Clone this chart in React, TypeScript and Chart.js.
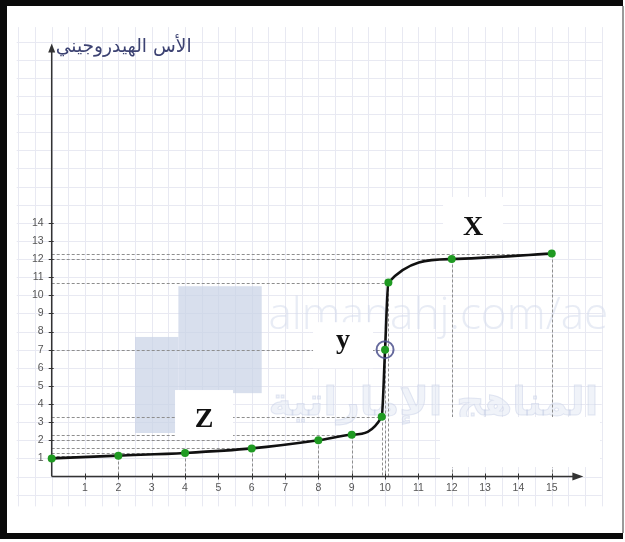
import React, { useEffect, useRef } from 'react';
import { Chart, registerables } from 'chart.js';

Chart.register(...registerables);

// ---- data ----
const volumes = [0, 2, 4, 6, 8, 9, 9.9, 10, 10.1, 12, 15];
const phValues = [1.0, 1.15, 1.3, 1.55, 2.0, 2.3, 3.3, 7.0, 10.7, 12.0, 12.3];
const xTickValues = [1, 2, 3, 4, 5, 6, 7, 8, 9, 10, 11, 12, 13, 14, 15];
const yTickValues = [1, 2, 3, 4, 5, 6, 7, 8, 9, 10, 11, 12, 13, 14];
const yAxisTitle = 'الأس الهيدروجيني';
const markerLabels = ['X', 'y', 'Z'];
const markerX = [12.64, 8.74, 4.57];
const markerY = [13.33, 7.08, 2.73];
const equivalenceIndex = 7;
const watermarkLatin = 'almanahj.com/ae';
const watermarkArabic = 'المناهج الإماراتية';

// label box extents (px relative to label centre / baseline): [halfW, above, below]
const markerBoxes = [
  [30, 38, 5],
  [30, 26, 20],
  [29, 37, 13],
];

const paintPlugin = {
  id: 'paintPlugin',
  beforeDraw(chart: any) {
    const ctx = chart.ctx as CanvasRenderingContext2D;
    const xs = chart.scales.x;
    const ys = chart.scales.y;
    const px = (v: number) => xs.getPixelForValue(v);
    const py = (v: number) => ys.getPixelForValue(v);
    ctx.save();
    ctx.fillStyle = '#ffffff';
    ctx.fillRect(0, 0, chart.width, chart.height);

    // paper grid
    const gx0 = px(-1.05), gx1 = px(16.5), gy0 = py(24.8), gy1 = py(-1.65);
    ctx.strokeStyle = '#e8e9f2';
    ctx.lineWidth = 1;
    ctx.beginPath();
    for (let k = -2; k <= 33; k++) {
      const x = Math.round(px(k * 0.5)) + 0.5;
      ctx.moveTo(x, gy0);
      ctx.lineTo(x, gy1);
    }
    for (let k = -1; k <= 24; k++) {
      const y = Math.round(py(k)) + 0.5;
      ctx.moveTo(gx0, y);
      ctx.lineTo(gx1, y);
    }
    ctx.stroke();

    // watermark logo blocks
    ctx.fillStyle = 'rgba(200,209,230,0.7)';
    const blk = (x0: number, y0: number, x1: number, y1: number) =>
      ctx.fillRect(px(x0), py(y1), px(x1) - px(x0), py(y0) - py(y1));
    blk(2.5, 2.4, 3.8, 7.7);
    blk(3.8, 4.6, 6.3, 10.5);

    // watermark texts
    ctx.fillStyle = 'rgba(210,217,235,0.5)';
    ctx.textBaseline = 'alphabetic';
    ctx.textAlign = 'left';
    let fs = 44;
    ctx.font = `300 ${fs}px "Open Sans"`;
    let w = ctx.measureText(watermarkLatin).width;
    fs = fs * 340 / w;
    ctx.font = `300 ${fs}px "Open Sans"`;
    ctx.fillText(watermarkLatin, px(6.5), py(8.15));
    fs = 40;
    ctx.font = `bold ${fs}px "DejaVu Sans"`;
    w = ctx.measureText(watermarkArabic).width;
    fs = fs * 330 / w;
    ctx.font = `bold ${fs}px "DejaVu Sans"`;
    ctx.fillStyle = 'rgba(222,228,241,0.45)';
    ctx.fillText(watermarkArabic, px(6.5), py(3.4));
    ctx.strokeStyle = 'rgba(195,205,228,0.45)';
    ctx.lineWidth = 1;
    ctx.strokeText(watermarkArabic, px(6.5), py(3.4));

    // dashed guides
    ctx.strokeStyle = '#8e8e8e';
    ctx.lineWidth = 1;
    ctx.setLineDash([3, 2]);
    ctx.beginPath();
    for (let i = 0; i < volumes.length; i++) {
      const x = px(volumes[i]);
      const y = Math.round(py(phValues[i])) + 0.5;
      ctx.moveTo(px(0), y);
      ctx.lineTo(x, y);
      if (volumes[i] > 0) {
        const xr = Math.round(x) + 0.5;
        ctx.moveTo(xr, y);
        ctx.lineTo(xr, py(0));
      }
    }
    ctx.stroke();
    ctx.setLineDash([]);

    // white patches
    ctx.fillStyle = '#ffffff';
    ctx.fillRect(px(11.65), py(3.28), px(16.45) - px(11.65), py(0.52) - py(3.28));
    for (let i = 0; i < markerLabels.length; i++) {
      const cx = px(markerX[i]);
      const by = py(markerY[i]);
      const [hw, up, dn] = markerBoxes[i];
      ctx.fillRect(cx - hw, by - up, hw * 2, up + dn);
    }

    // axes
    const ox = px(0), oy = py(0);
    const xTip = px(15.95), yTip = py(23.9);
    ctx.strokeStyle = '#333';
    ctx.fillStyle = '#333';
    ctx.lineWidth = 1.5;
    ctx.beginPath();
    ctx.moveTo(ox, oy);
    ctx.lineTo(xTip - 8, oy);
    ctx.moveTo(ox, oy);
    ctx.lineTo(ox, yTip + 6);
    ctx.stroke();
    ctx.beginPath();
    ctx.moveTo(xTip, oy);
    ctx.lineTo(xTip - 11, oy - 4);
    ctx.lineTo(xTip - 11, oy + 4);
    ctx.closePath();
    ctx.fill();
    ctx.beginPath();
    ctx.moveTo(ox, yTip);
    ctx.lineTo(ox - 3.5, yTip + 9);
    ctx.lineTo(ox + 3.5, yTip + 9);
    ctx.closePath();
    ctx.fill();
    ctx.lineWidth = 1;
    ctx.beginPath();
    for (const v of xTickValues) {
      const x = Math.round(px(v)) + 0.5;
      ctx.moveTo(x, oy - 3);
      ctx.lineTo(x, oy + 3);
    }
    for (const v of yTickValues) {
      const y = Math.round(py(v)) + 0.5;
      ctx.moveTo(ox - 3, y);
      ctx.lineTo(ox + 2, y);
    }
    ctx.stroke();

    // y-axis title
    ctx.fillStyle = '#3c4272';
    fs = 17;
    ctx.font = `${fs}px "DejaVu Sans"`;
    w = ctx.measureText(yAxisTitle).width;
    fs = fs * 136 / w;
    ctx.font = `${fs}px "DejaVu Sans"`;
    ctx.textAlign = 'left';
    ctx.textBaseline = 'alphabetic';
    ctx.fillText(yAxisTitle, ox + 4, yTip + 9);
    ctx.restore();
  },
  afterDatasetsDraw(chart: any) {
    const ctx = chart.ctx as CanvasRenderingContext2D;
    const xs = chart.scales.x;
    const ys = chart.scales.y;
    const px = (v: number) => xs.getPixelForValue(v);
    const py = (v: number) => ys.getPixelForValue(v);
    ctx.save();
    // equivalence ring
    ctx.strokeStyle = 'rgba(75,80,140,0.85)';
    ctx.lineWidth = 2;
    ctx.beginPath();
    ctx.arc(px(volumes[equivalenceIndex]), py(phValues[equivalenceIndex]), 8.5, 0, Math.PI * 2);
    ctx.stroke();
    // marker labels
    ctx.fillStyle = '#111';
    ctx.font = 'bold 28px "Liberation Serif"';
    ctx.textAlign = 'center';
    ctx.textBaseline = 'alphabetic';
    for (let i = 0; i < markerLabels.length; i++) {
      ctx.fillText(markerLabels[i], px(markerX[i]), py(markerY[i]));
    }
    ctx.restore();
  },
  afterDraw(chart: any) {
    const ctx = chart.ctx as CanvasRenderingContext2D;
    ctx.save();
    ctx.fillStyle = '#0a0a0a';
    ctx.fillRect(0, 0, 623, 6);
    ctx.fillRect(0, 0, 7, 539);
    ctx.fillRect(0, 533, 623, 6);
    ctx.fillStyle = '#9a9a9a';
    ctx.fillRect(622, 6, 2, 527);
    ctx.restore();
  },
};

export default function App() {
  const ref = useRef<HTMLCanvasElement | null>(null);
  useEffect(() => {
    if (!ref.current) return;
    const tickFont = { family: '"Liberation Sans", sans-serif', size: 10.5 };
    const chart = new Chart(ref.current, {
      type: 'scatter',
      data: {
        datasets: [
          {
            data: volumes.map((v, i) => ({ x: v, y: phValues[i] })),
            showLine: true,
            borderColor: '#111',
            borderWidth: 2.6,
            cubicInterpolationMode: 'monotone',
            pointRadius: 4,
            pointBackgroundColor: '#1f9a22',
            pointBorderWidth: 0,
            clip: false,
          } as any,
        ],
      },
      options: {
        responsive: false,
        animation: false,
        events: [],
        layout: { padding: { left: 0, top: 41.6, right: 41.6, bottom: 35.5 } },
        plugins: { legend: { display: false }, tooltip: { enabled: false } },
        scales: {
          x: {
            type: 'linear',
            min: 0,
            max: 15.95,
            afterBuildTicks: (s: any) => {
              s.ticks = xTickValues.map((v) => ({ value: v }));
            },
            afterFit: (s: any) => {
              s.height = 30;
            },
            grid: { display: false, drawTicks: false },
            border: { display: false },
            ticks: { font: tickFont, color: '#555', padding: 5, maxRotation: 0, autoSkip: false },
          },
          y: {
            type: 'linear',
            min: 0,
            max: 24,
            afterBuildTicks: (s: any) => {
              s.ticks = yTickValues.map((v) => ({ value: v }));
            },
            afterFit: (s: any) => {
              s.width = 51.7;
            },
            grid: { display: false, drawTicks: false },
            border: { display: false },
            ticks: { font: tickFont, color: '#555', padding: 8, autoSkip: false },
          },
        },
      } as any,
      plugins: [paintPlugin],
    });
    return () => chart.destroy();
  }, []);
  return (
    <div style={{ position: 'fixed', left: 0, top: 0, width: 625, height: 542, background: '#fff' }}>
      <canvas ref={ref} width={625} height={542} style={{ display: 'block', width: 625, height: 542 }} />
    </div>
  );
}
